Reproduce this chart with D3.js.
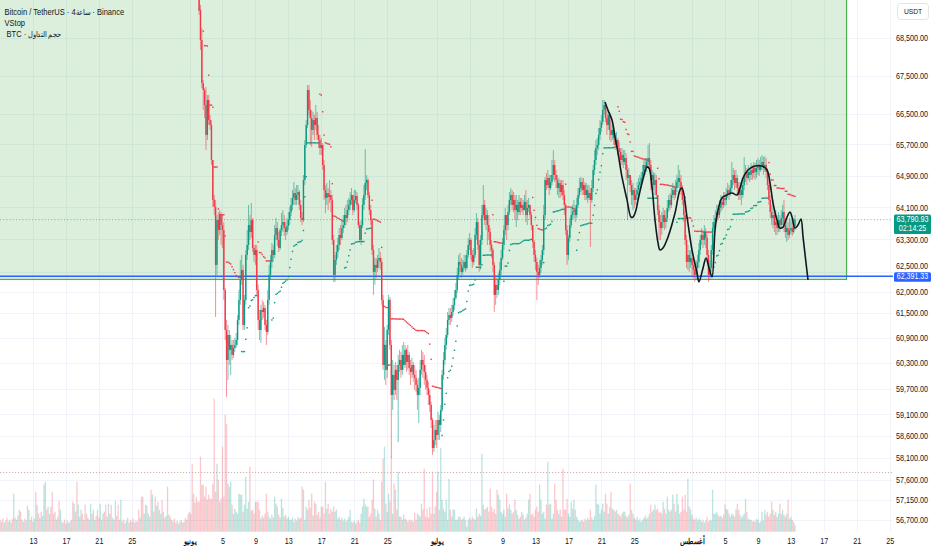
<!DOCTYPE html>
<html><head><meta charset="utf-8">
<script src="https://cdn.jsdelivr.net/npm/d3@7/dist/d3.min.js"></script>
<style>
html,body{margin:0;padding:0;background:#fff;overflow:hidden}
svg{display:block}
</style></head><body>
<svg id="chart" width="932" height="550"></svg>
<script>
// ---------------- DATA ----------------
const startTime = "2024-05-09T00:00:00Z";   // open time of bar 0 (4h bars)
const barHours = 4;
const firstPriceBar = 145;                   // first bar whose OHLC is listed
const firstOpen = 70213;

const closes = [69260,68445,67300,67115,66725,65945,66855,66330,66203,65300,64285,64110,62668,63780,63530,63905,63655,63530,62055,61090,
60375,60970,60615,60732,60495,60662,60732,60850,61330,61815,62300,62545,61210,61815,62913,63160,63655,63481,63780,63085,
62913,63035,62055,61330,61090,61570,61522,61619,61210,61042,61815,62423,62741,63035,62913,63408,63580,63285,63085,63530,
63655,63730,63580,63481,63630,63780,63980,64160,64335,64460,64285,64410,64485,64160,63830,63780,64790,65685,66203,67115,
66595,66383,66075,66330,66203,66383,65945,65815,65607,65685,65173,64535,64335,64460,64360,64410,64285,63285,62423,62790,
62986,63160,63408,63334,63580,63655,63905,63830,64030,64160,64285,64410,64030,64285,64385,64160,63655,63285,63655,64160,
64410,64714,64790,64410,64030,63780,63035,62496,62668,62594,62790,62839,62741,61815,60257,60732,60140,61090,61815,60732,
59552,60022,59670,60140,59905,60257,60375,60140,60495,60257,60615,60328,60495,60187,60093,60257,60022,59952,59787,59552,
59717,60140,60375,60257,60093,59905,59717,59552,59320,58970,58326,58510,58740,58625,58970,58855,59205,60022,60375,60732,
60970,61330,61450,61378,61522,61693,61864,62055,62423,62741,62668,62496,62594,62741,62594,62913,63160,63285,62913,62741,
62913,63408,63730,63160,62668,63285,63905,64160,63780,63905,63655,63481,63160,63035,62668,61935,62178,62055,62300,62545,
62839,63160,63530,63905,63655,63980,64285,64410,64160,64285,64030,64160,63980,64235,64085,64160,64030,64235,63905,64085,
64160,63905,63655,63235,62913,62741,62496,62423,62594,62790,63035,63905,64790,64662,64841,64586,64739,64917,65173,64917,
64790,64586,64714,64485,64662,64410,64160,63530,62913,63334,63655,63905,63980,64030,63905,64160,64410,64586,64739,64535,
64662,64410,64535,64335,64460,64285,64586,65045,65300,65607,65685,65945,66126,66279,66595,66725,66383,66203,66463,66075,
65945,66075,65867,65685,65815,65607,65504,65300,65428,65249,65351,65045,64841,64917,64662,64410,64535,64285,64410,64535,
64662,64739,64841,64994,65173,65096,65249,65351,65173,64790,64917,64662,64790,64410,64030,63730,63580,63730,63905,63730,
63830,64085,64285,64160,64410,64535,64410,64586,64739,64841,64739,64535,64285,63905,63285,62741,62913,62741,62839,62668,
62545,62423,62594,62741,63035,63285,63408,63285,63481,63334,62913,62423,62594,63035,63580,63730,63830,63980,63905,64085,
64235,64160,64335,64285,64410,64535,64460,64586,64790,64917,64714,64841,64586,64410,64535,64410,64662,64917,64994,64841,
64994,64917,65045,64968,65096,64994,65096,65173,65045,65173,65249,65096,65173,64994,64662,64285,63980,63830,63905,63655,
63730,63580,63780,63655,63830,63980,63655,63481,63580,63408,63530,63580,63481,63630,63790.93];

const highs = [70351,69395,68769,67380,67168,67195,66985,66985,66463,66330,65300,64410,64285,63905,63980,64030,63980,63905,63730,62104,
61330,61210,61090,60970,60850,60850,60898,61018,61450,62055,62790,62913,62668,61935,63035,63530,64160,63905,64210,63830,
63160,63160,63160,62178,61570,61693,61815,61766,61693,61330,62055,62668,62913,63210,63160,63655,63830,63730,63481,63580,
63955,64030,63905,63730,63830,63980,64110,64335,64535,64739,64586,64662,64662,64535,64285,63980,64917,65815,66330,67248,
67248,66855,66595,66542,66463,66725,66542,66203,65945,65867,65737,65300,64662,64714,64586,64790,64535,64410,63408,62913,
63160,63334,63580,63655,63780,63905,64085,64160,64285,64335,64485,64586,64410,64535,64535,64485,64210,63730,63780,64335,
64662,65581,64917,64841,64485,64160,63830,63160,62839,62839,62913,63085,62986,62839,61935,61162,60850,61210,61935,61887,
60850,60375,60257,60328,60257,60495,60615,60567,60732,60803,60732,60662,60732,60567,60375,60423,60328,60257,60140,59905,
59952,60375,60615,60567,60495,60257,60022,59858,59670,59389,59021,58855,58970,58970,59159,59090,59320,60140,60567,60898,
61138,61522,61619,61619,61693,61864,62055,62226,62594,62913,62962,62839,62790,62913,62913,63035,63334,63457,63334,63035,
63085,63580,63955,63830,63285,63408,64160,64662,64285,64085,64030,63905,63580,63285,63085,62741,62423,62349,62472,62741,
63035,63334,63655,64085,63905,64160,64485,64586,64535,64485,64410,64410,64285,64410,64335,64335,64285,64410,64535,64285,
64335,64160,63980,63655,63285,63035,62839,62668,62790,62913,63160,64160,64867,64968,65045,64917,64917,65300,65555,65300,
65045,64917,64841,64790,64790,64790,64535,64210,63655,63408,63830,64085,64160,64285,64160,64335,64586,64841,64867,64841,
64841,64739,64714,64662,64662,64586,64790,65173,65555,65815,65867,66126,66330,66463,66855,66855,66777,66595,66595,66542,
66330,66203,66126,65997,66023,65867,65763,65607,65607,65555,65555,65479,65173,65096,64917,64790,64714,64586,64586,64739,
64841,64917,64994,65173,65300,65351,65351,65685,65737,65300,65045,64994,64968,64917,64410,64160,63905,63980,64085,64030,
64030,64285,64410,64460,64586,64714,64662,64790,64917,65173,65045,64917,64662,64335,64030,63408,63160,63035,63035,62986,
62839,62741,62790,62913,63210,63408,63580,63530,63655,63580,63408,63035,62790,63160,63730,63905,64030,64160,64160,64285,
64410,64385,64485,64485,64586,64714,64662,64790,65249,65096,65045,65045,64917,64739,64739,64662,64841,65377,65173,65096,
65173,65096,65224,65173,65249,65224,65300,65351,65300,65377,65428,65377,65402,65351,65096,64790,64410,64160,64285,64085,
64030,63905,63980,63905,64030,64160,64285,63830,63780,63730,63830,63780,63730,63830,63905];

const lows = [69122,68180,67168,66595,66383,65555,65815,66203,66075,65173,64110,63905,61402,62423,63285,63408,63160,63085,61815,60850,
59506,59905,60257,60022,60375,60423,60567,60662,60732,61210,61693,62178,61090,61090,61693,62790,63035,63285,63334,62986,
62741,62668,61935,61090,60850,60780,61330,61378,61090,60732,60970,61693,62300,62594,62741,62839,63285,63135,62986,63035,
63383,63481,63383,63285,63408,63530,63655,63880,64030,64160,64160,64160,64285,64030,63730,63655,63730,64662,65607,66126,
66463,65685,65633,65945,65815,66075,65815,65607,65428,65428,65045,64285,63955,64160,64030,64210,63980,63160,62251,62251,
62668,62839,63035,63160,63285,63457,63580,63655,63730,63905,64030,64160,63905,63980,64210,64030,63580,63235,63160,63580,
64030,64285,64535,64335,63905,63655,62913,61935,62178,62349,62496,62594,62545,61693,60140,59905,59787,59952,60970,60615,
58101,59205,59435,59552,59435,58464,60093,59952,60022,60140,60187,60093,60140,60022,59787,59952,59858,59670,59623,59205,
58901,59552,60022,59952,59787,59670,59552,59320,59159,58786,58170,58239,58395,58326,58510,58510,58694,59159,59905,60257,
60615,60898,61210,61210,61282,61426,61570,61815,61983,62300,62496,62349,62423,62545,62496,62545,62839,63035,62790,62594,
62668,62839,63285,63035,62496,62545,63160,63830,63655,63530,63160,63285,62986,62839,62496,61522,61693,61864,61935,62178,
62423,62790,63035,63408,63285,63530,63905,64160,64030,63980,63780,63605,63780,63905,63905,63980,63905,64030,63730,63655,
63980,63780,63530,63085,62741,62545,61815,62178,62349,62472,62668,62913,63780,64535,64586,64410,64535,64662,64790,64739,
64586,64410,64335,64335,64385,64285,63905,63408,62668,62790,63235,63580,63780,63830,63730,63830,64085,64335,64485,64410,
64410,64285,64285,64210,64285,63110,64210,64485,64917,65173,65428,65555,65815,66023,66203,66463,66279,65945,66075,65815,
65763,65815,65685,65555,65607,65428,65351,65121,65173,65096,65173,64790,63780,64662,64485,64160,64030,64085,64160,64285,
64410,64535,64586,64739,64841,64917,64994,65096,65045,64535,64586,64535,64410,64335,63905,63285,63285,63408,63580,63530,
63580,63730,63980,64030,64085,64335,64285,64335,64485,64586,64535,64410,64160,63730,63160,62594,62545,62496,62594,62423,
62349,62251,62300,62300,62594,62913,63160,63085,63160,63085,62741,62251,62300,62496,62913,63481,63580,63730,63780,63830,
63980,64030,64085,64135,64160,64335,64285,64385,64485,64662,64535,64586,64410,64285,64285,64160,64335,64535,64739,64662,
64790,64739,64790,64790,64841,64790,64841,64917,64892,64994,65045,64917,64994,64841,64535,64160,63830,63655,63580,63481,
63408,63408,63481,63481,63580,63655,63481,63334,63235,63285,63334,63432,63383,63432,63530];

// volume per 4h bar, in hundreds of BTC (bar 0 .. last)
const volumeHundreds = [12,10,13,9,11,14,10,12,9,13, 38,14,12,16,22,20,12,10,13,11, 26,22,12,15,10,13,40,27,18,14, 20,16,47,50,22,25,18,25,40,18,
20,12,15,31,22,10,9,12,8,11, 9,10,12,30,28,20,50,27,15,22, 18,12,27,18,14,12,28,18,22,12, 16,22,14,28,12,18,20,27,15,28,
18,27,14,12,31,16,27,12,32,10, 12,8,11,14,9,12,10,13,9,11, 10,22,14,35,35,18,27,26,18,15, 42,37,20,35,26,30,22,18,32,20,
14,16,45,17,15,12,10,13,9,11, 8,10,12,9,10,14,12,18,20,18, 68,38,29,35,30,30,75,47,47,35, 45,32,37,33,33,48,133,40,68,52,
30,33,85,35,117,108,48,45,50,27, 18,23,20,18,38,37,37,20,27,55, 23,30,65,21,22,18,30,30,30,22, 13,16,14,18,38,20,15,13,17,14,
35,28,25,17,14,33,24,15,17,13, 15,12,12,14,10,13,11,15,13,14, 45,42,12,25,22,32,24,38,16,30, 28,17,20,14,25,25,18,50,23,28,
18,23,20,25,20,22,13,15,12,14, 11,13,10,12,15,22,10,9,11,8, 10,12,9,18,25,33,27,25,25,15, 18,32,52,23,15,22,18,12,50,73,
85,28,20,38,30,75,18,48,42,22, 60,15,15,12,17,13,12,10,12,11, 12,10,19,12,18,17,15,28,22,63, 15,23,14,25,18,60,18,25,40,60,
22,84,32,23,20,32,12,53,22,15, 22,22,12,12,15,15,12,13,15,12, 5,12,14,12,15,13,12,23,15,18, 16,78,27,22,23,25,20,43,25,20,
23,18,42,37,32,20,18,22,15,38, 23,27,22,18,20,32,22,17,13,15, 20,17,12,14,18,32,38,17,18,15, 22,25,20,47,32,18,20,13,27,70,
27,28,13,18,48,32,22,18,22,15, 63,22,22,33,18,15,30,23,32,22, 15,12,10,11,12,10,13,11,14,12, 22,14,12,16,47,28,27,18,22,28,
20,38,28,18,25,40,23,22,20,22, 18,17,15,18,20,20,16,14,17,48, 22,18,14,12,15,11,13,10,12,14, 16,13,15,18,27,20,22,27,22,23,
19,20,18,30,23,18,35,22,20,22, 37,28,20,38,27,18,20,35,22,37, 20,53,25,22,17,13,12,14,11,13, 12,10,12,9,11,15,10,12,11,42,
18,18,20,17,15,16,14,17,28,23, 22,18,15,18,17,15,22,28,22,17, 14,16,18,33,20,13,12,12,10,11, 10,13,12,9,10,20,11,22,17,20,
15,18,30,22,17,20,15,18,28,18, 22,17,15,18,32,13,15,12,10,7];

// up(1)/down(0) colour of the volume bars whose candles sit above the visible price range
const earlyVolUp = [0,1,0,1,0,0,1,0,1,0, 1,0,1,0,1,0,1,0,0,1, 0,1,0,1,0,1,0,1,0,1, 0,1,1,1,0,1,0,0,0,1, 0,1,0,0,1,0,1,0,1,0,
1,0,1,0,1,0,0,1,0,1, 0,1,0,0,1,0,1,0,1,1, 0,1,0,1,0,1,0,0,1,1, 0,0,1,0,1,0,0,1,1,0, 1,0,1,0,1,0,1,0,0,1,
0,0,1,0,0,1,0,1,1,0, 0,1,0,0,1,0,1,1,0,1, 0,1,0,1,0,0,1,0,1,0, 1,0,1,0,1,0,0,0,1,0, 0,1,0,0,0];

const priceTicks = [68500,67500,66500,65700,64900,64100,63300,62500,62000,61500,60900,60300,59700,59100,58600,58100,57600,57150,56700];
const dateTicks = ["2024-05-13","2024-05-17","2024-05-21","2024-05-25","2024-06-01","2024-06-05","2024-06-09","2024-06-13","2024-06-17",
"2024-06-21","2024-06-25","2024-07-01","2024-07-05","2024-07-09","2024-07-13","2024-07-17","2024-07-21","2024-07-25","2024-08-01",
"2024-08-05","2024-08-09","2024-08-13","2024-08-17","2024-08-21","2024-08-25"];
const monthNames = {4:"مايو",5:"يونيو",6:"يوليو",7:"أغسطس"};

// hand-drawn curve (time, price)
const curveTimes = ["2024-07-21T10:30","2024-07-21T19:00","2024-07-22T07:00","2024-07-22T15:40","2024-07-23T00:30","2024-07-23T12:00",
"2024-07-24T02:40","2024-07-24T14:20","2024-07-24T20:10","2024-07-25T04:50","2024-07-25T10:50","2024-07-25T22:20","2024-07-26T13:00",
"2024-07-26T18:40","2024-07-27T03:30","2024-07-27T12:15","2024-07-27T21:00","2024-07-28T02:50","2024-07-28T11:30","2024-07-29T02:10",
"2024-07-29T22:30","2024-07-30T13:00","2024-07-30T19:00","2024-07-31T09:30","2024-08-01T00:00","2024-08-01T14:40","2024-08-01T20:20",
"2024-08-02T08:10","2024-08-02T16:50","2024-08-03T01:40","2024-08-03T10:20","2024-08-03T19:00","2024-08-04T03:50","2024-08-04T15:20",
"2024-08-05T06:00","2024-08-05T20:40","2024-08-06T11:00","2024-08-06T20:00","2024-08-07T04:30","2024-08-07T19:10","2024-08-08T15:40",
"2024-08-09T12:00","2024-08-10T02:40","2024-08-10T11:20","2024-08-10T20:00","2024-08-11T07:40","2024-08-11T16:20","2024-08-12T01:10",
"2024-08-12T12:45","2024-08-12T21:40","2024-08-13T03:20","2024-08-13T12:00","2024-08-13T20:50","2024-08-14T05:30","2024-08-14T11:30",
"2024-08-14T20:10","2024-08-15T02:00"];
const curvePrices = [66803,66595,66330,65893,65479,64867,64285,63855,63855,64030,64285,64714,65122,65096,64612,63780,63210,63035,63085,63359,
63955,64535,64586,63855,63035,62472,62251,62594,62839,62594,62374,63530,64030,64335,64410,64460,64410,64586,64841,65045,65147,65147,65045,
64714,64210,63780,63580,63605,63855,63980,63855,63580,63655,63805,63359,62716,62300];

const lastPrice = 63790.93, countdown = "02:14:25";
const hLinePrice = 62391.33;
const boxStart = "2024-04-20T00:00Z", boxEnd = "2024-08-19T18:15Z", boxTop = 76000, boxBottom = 62312;
const volLevelPrice = 57770;
const legendTitleParts = ["Bitcoin / TetherUS · 4", "ساعة", " · Binance"];
const legendStop = "VStop";
const legendVolParts = ["BTC · ", "حجم التداول"];

// ---------------- CHART ----------------
const FONT = '"Liberation Sans","Arimo",Arial,sans-serif';
const NARROW = 0.84;                       // horizontal squeeze that imitates the condensed UI font
const UP = "#089981", DOWN = "#f23645";
const plotRight = 893, volBase = 531.7;
const svg = d3.select("#chart").attr("font-family", FONT);

const x = d3.scaleUtc().domain([new Date("2024-06-01T00:00:00Z"), new Date("2024-08-01T00:00:00Z")]).range([189.5, 692]);
const y = d3.scaleLog().domain([68500, 56700]).range([38, 520.1]);
const yVol = d3.scaleLinear().domain([0, 100]).range([volBase, volBase - 100]);
const t0 = Date.parse(startTime);
const barTime = i => new Date(t0 + i * barHours * 3600000);

const bars = closes.map((c, k) => {
  const o = k === 0 ? firstOpen : closes[k - 1];
  return {i: firstPriceBar + k, t: barTime(firstPriceBar + k), o, c,
          h: Math.max(highs[k], o, c), l: Math.min(lows[k], o, c)};
});

// Volatility Stop (length 20, factor 2)
function volStop(bs, len, factor) {
  let max = bs[0].c, min = bs[0].c, up = true, stop = NaN, atr = NaN, trSum = 0;
  return bs.map((b, k) => {
    const pc = k ? bs[k - 1].c : NaN;
    const tr = k ? Math.max(b.h - b.l, Math.abs(b.h - pc), Math.abs(b.l - pc)) : b.h - b.l;
    if (k < len) { trSum += tr; if (k === len - 1) atr = trSum / len; }
    else atr = (atr * (len - 1) + tr) / len;
    const atrM = isNaN(atr) ? tr * factor : atr * factor;
    max = Math.max(max, b.c); min = Math.min(min, b.c);
    let s = isNaN(stop) ? b.c : (up ? Math.max(stop, max - atrM) : Math.min(stop, min + atrM));
    const nowUp = b.c - s >= 0;
    if (nowUp !== up) { max = b.c; min = b.c; s = nowUp ? max - atrM : min + atrM; }
    up = nowUp; stop = s;
    return {t: b.t, v: s, up};
  });
}
const vs = volStop(bars, 20, 2);

svg.append("defs").append("clipPath").attr("id", "plotClip")
  .append("rect").attr("x", 0).attr("y", 0).attr("width", plotRight).attr("height", volBase + 0.5);
const plot = svg.append("g").attr("clip-path", "url(#plotClip)");

// grid
const dates = dateTicks.map(d => new Date(d + "T00:00:00Z"));
plot.append("g").selectAll("line").data(priceTicks).join("line")
  .attr("x1", 0).attr("x2", plotRight)
  .attr("y1", d => Math.round(y(d)) + 0.5).attr("y2", d => Math.round(y(d)) + 0.5)
  .attr("stroke", "#f0f3fa").attr("stroke-width", 1);
plot.append("g").selectAll("line").data(dates).join("line")
  .attr("x1", d => Math.round(x(d)) + 0.5).attr("x2", d => Math.round(x(d)) + 0.5)
  .attr("y1", 0).attr("y2", volBase)
  .attr("stroke", "#f0f3fa").attr("stroke-width", 1);

// rectangle drawing
plot.append("rect")
  .attr("x", x(new Date(boxStart))).attr("y", y(boxTop))
  .attr("width", x(new Date(boxEnd)) - x(new Date(boxStart)))
  .attr("height", y(boxBottom) - y(boxTop))
  .attr("fill", "rgba(76,175,80,0.2)").attr("stroke", "#4caf50").attr("stroke-width", 1.2);

// volume
const volData = volumeHundreds.map((v, i) => {
  const k = i - firstPriceBar;
  const up = k >= 0 ? bars[k].c >= bars[k].o : earlyVolUp[i] === 1;
  return {t: barTime(i), v, up};
});
plot.append("g").selectAll("rect").data(volData).join("rect")
  .attr("x", d => x(d.t) - 0.65).attr("width", 1.3)
  .attr("y", d => yVol(d.v)).attr("height", d => volBase - yVol(d.v))
  .attr("fill", d => d.up ? "rgba(8,153,129,0.27)" : "rgba(242,54,69,0.27)");

// horizontal lines
plot.append("line").attr("x1", 0).attr("x2", plotRight)
  .attr("y1", y(volLevelPrice)).attr("y2", y(volLevelPrice))
  .attr("stroke", "#c9aea8").attr("stroke-width", 1).attr("stroke-dasharray", "1.2,1.8");
plot.append("line").attr("x1", 0).attr("x2", plotRight)
  .attr("y1", y(lastPrice)).attr("y2", y(lastPrice))
  .attr("stroke", UP).attr("stroke-width", 1).attr("stroke-dasharray", "1,2.2").attr("opacity", 0.6);
plot.append("line").attr("x1", 0).attr("x2", plotRight)
  .attr("y1", y(hLinePrice)).attr("y2", y(hLinePrice))
  .attr("stroke", "#2962ff").attr("stroke-width", 1.5);

// VStop dots
plot.append("g").selectAll("rect").data(vs).join("rect")
  .attr("x", d => x(d.t) - 0.7).attr("y", d => y(d.v) - 0.7)
  .attr("width", 1.4).attr("height", 1.4)
  .attr("fill", d => d.up ? UP : DOWN);

// candles
const cg = plot.append("g");
cg.selectAll("line").data(bars).join("line")
  .attr("x1", d => x(d.t)).attr("x2", d => x(d.t))
  .attr("y1", d => y(d.h)).attr("y2", d => y(d.l))
  .attr("stroke", d => d.c >= d.o ? UP : DOWN).attr("stroke-width", 1).attr("opacity", 0.55);
cg.selectAll("rect").data(bars).join("rect")
  .attr("x", d => x(d.t) - 0.7).attr("width", 1.4)
  .attr("y", d => y(Math.max(d.o, d.c)))
  .attr("height", d => Math.max(0.9, y(Math.min(d.o, d.c)) - y(Math.max(d.o, d.c))))
  .attr("fill", d => d.c >= d.o ? UP : DOWN);

// hand-drawn curve
const curvePts = curveTimes.map((t, k) => ({t: new Date(t + ":00Z"), p: curvePrices[k]}));
plot.append("path").datum(curvePts)
  .attr("d", d3.line().x(d => x(d.t)).y(d => y(d.p)).curve(d3.curveCatmullRom.alpha(0.5)))
  .attr("fill", "none").attr("stroke", "#131722").attr("stroke-width", 1.6);

// axes
const priceAxis = d3.axisLeft(y).tickValues(priceTicks).tickSize(0).tickPadding(0).tickFormat(d3.format(",.2f"));
const pa = svg.append("g").attr("transform", "translate(928,0)").call(priceAxis)
  .call(g => g.select(".domain").remove())
  .attr("font-family", FONT).attr("font-size", 8.6).attr("color", "#131722");
pa.selectAll("text")
  .attr("transform", d => `translate(0,${d === 62500 ? -6 : 0}) scale(${NARROW},1)`);

const dateAxis = d3.axisBottom(x).tickValues(dates).tickSize(0).tickPadding(3)
  .tickFormat(d => d.getUTCDate() === 1 ? monthNames[d.getUTCMonth()] : d.getUTCDate());
svg.append("g").attr("transform", "translate(0,535)").call(dateAxis)
  .call(g => g.select(".domain").remove())
  .attr("font-family", FONT).attr("font-size", 8.6).attr("color", "#131722")
  .selectAll("text")
  .attr("font-weight", d => d.getUTCDate() === 1 ? "bold" : null)
  .attr("font-size", d => d.getUTCDate() === 1 ? 8 : null)
  .attr("transform", `scale(${NARROW},1)`);

// price labels
function narrowText(cx, cy, str, size, color) {
  svg.append("g").attr("transform", `translate(${cx},${cy}) scale(${NARROW},1)`)
    .append("text").attr("text-anchor", "middle").attr("font-size", size).attr("fill", color).text(str);
}
const yl = y(lastPrice);
svg.append("rect").attr("x", 894).attr("y", yl - 5).attr("width", 37).attr("height", 19.5).attr("rx", 1.5).attr("fill", UP);
narrowText(912.5, yl + 2.8, d3.format(",.2f")(lastPrice), 8.6, "#fff");
narrowText(912.5, yl + 11.8, countdown, 8.4, "#fff");
const yh = y(hLinePrice);
svg.append("rect").attr("x", 894).attr("y", yh - 4).attr("width", 37).attr("height", 9.5).attr("rx", 1.5).attr("fill", "#2962ff");
narrowText(912.5, yh + 3.3, d3.format(",.2f")(hLinePrice), 8.4, "#fff");

// currency box
svg.append("rect").attr("x", 897.5).attr("y", 3.5).attr("width", 31).attr("height", 16).attr("rx", 3)
  .attr("fill", "#fff").attr("stroke", "#e0e3eb");
narrowText(913, 14.3, "USDT", 8, "#131722");

// legend
const lg = svg.append("g").attr("transform", `translate(4.5,0) scale(${NARROW},1)`)
  .attr("font-size", 9).attr("fill", "#131722");
const t1 = lg.append("text").attr("x", 0).attr("y", 15.5);
t1.append("tspan").text(legendTitleParts[0]);
t1.append("tspan").attr("font-size", 7.5).text(legendTitleParts[1]);
t1.append("tspan").text(legendTitleParts[2]);
lg.append("text").attr("x", 0).attr("y", 26.5).text(legendStop);
const t3 = lg.append("text").attr("x", 2.4).attr("y", 37.5);
t3.append("tspan").text(legendVolParts[0]);
t3.append("tspan").attr("font-size", 7.5).text(legendVolParts[1]);
</script></body></html>
